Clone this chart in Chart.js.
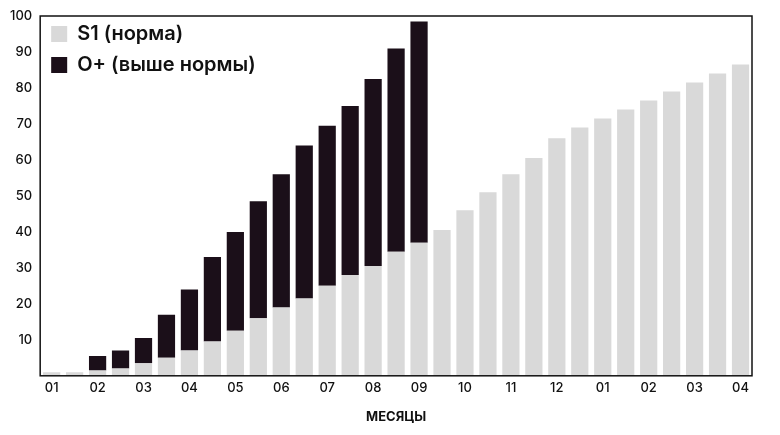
<!DOCTYPE html>
<html><head><meta charset="utf-8">
<script src="https://cdn.jsdelivr.net/npm/chart.js@4/dist/chart.umd.min.js"></script>
<style>html,body{margin:0;background:#fff}#w{width:780px;height:435px}</style></head>
<body><div id="w"><canvas id="c"></canvas></div>
<script>
const tickLabels = ["01","02","03","04","05","06","07","08","09","10","11","12","01","02","03","04"];
const categories = [];
tickLabels.forEach((t,i)=>{categories.push(t); if(i<tickLabels.length-1) categories.push("");});
const normal = [1,1,1.5,2,3.5,5,7,9.5,12.5,16,19,21.5,25,28,30.5,34.5,37,40.5,46,51,56,60.5,66,69,71.5,74,76.5,79,81.5,84,86.5];
const above = [0,0,4,5,7,12,17,23.5,27.5,32.5,37,42.5,44.5,47,52,56.5,61.5,0,0,0,0,0,0,0,0,0,0,0,0,0,0];
const seriesNames = ["S1 (норма)","O+ (выше нормы)"];
const colors = ["#d9d9d9","#1b0f19"];
const F = "Inter, 'DejaVu Sans', sans-serif";

const legendPlugin = {id:'lg', afterDraw(ch){
  const ctx=ch.ctx, a=ch.chartArea;
  ch.data.datasets.forEach((d,i)=>{
    const y=a.top+18+i*31;
    ctx.fillStyle=d.backgroundColor; ctx.fillRect(a.left+11,y-8,16,16);
    ctx.fillStyle="#111"; ctx.font="600 20px "+F; ctx.textBaseline="middle";
    ctx.fillText(d.label,a.left+37,y);
  });
}};
const framePlugin = {id:'fr', afterDraw(ch){
  const ctx=ch.ctx,a=ch.chartArea; ctx.strokeStyle="#111"; ctx.lineWidth=1.5;
  ctx.strokeRect(a.left,a.top,a.right-a.left,a.bottom-a.top);
}};
new Chart(document.getElementById('c'),{type:'bar',
 data:{labels:categories,datasets:[
  {label:seriesNames[0],data:normal,backgroundColor:colors[0],barPercentage:0.75,categoryPercentage:1},
  {label:seriesNames[1],data:above,backgroundColor:colors[1],barPercentage:0.75,categoryPercentage:1}]},
 options:{responsive:true,maintainAspectRatio:false,animation:false,
  layout:{padding:{left:2,right:28,top:16,bottom:6}},
  plugins:{legend:{display:false},tooltip:{enabled:false}},
  scales:{
   x:{stacked:true,grid:{display:false,drawTicks:false},border:{display:false},
      ticks:{autoSkip:false,maxRotation:0,color:"#111",font:{family:F,size:13,weight:'500'},padding:4},
      title:{display:true,text:"МЕСЯЦЫ",color:"#111",font:{family:F,size:13,weight:'bold'},padding:{top:10}}},
   y:{stacked:true,min:0,max:100,grid:{display:false,drawTicks:false},border:{display:false},
      ticks:{stepSize:10,color:"#111",font:{family:F,size:13,weight:'500'},padding:8,
        callback:v=>v===0?"":v}}
  }}, plugins:[legendPlugin,framePlugin]});
</script></body></html>
